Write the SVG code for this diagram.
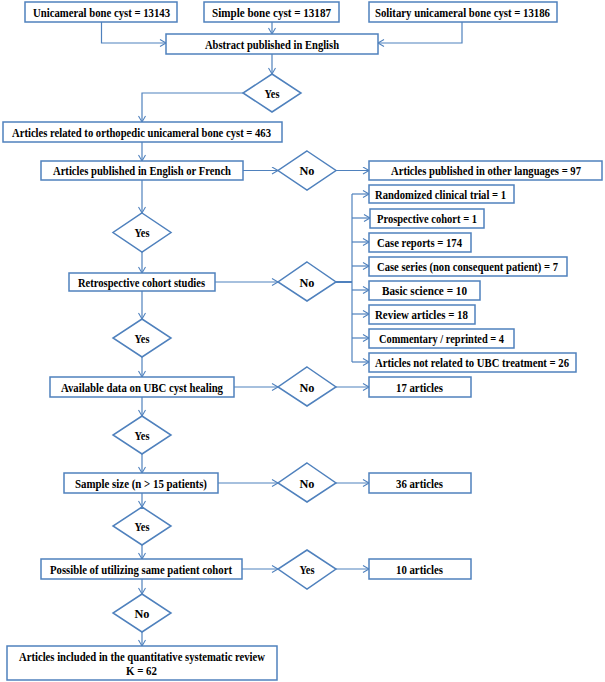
<svg xmlns="http://www.w3.org/2000/svg" width="605" height="682" viewBox="0 0 605 682">
<defs>
<marker id="arr" markerUnits="userSpaceOnUse" markerWidth="10" markerHeight="10" refX="7" refY="4" orient="auto">
<path d="M1,0.5 L7,4 L1,7.5" fill="none" stroke="#4f81bd" stroke-width="1.1"/>
</marker>
<style>
rect{fill:#fff;stroke:#4f81bd;stroke-width:1.5}
polygon{fill:#fff;stroke:#4f81bd;stroke-width:1.5}
text{font-family:"Liberation Serif","Times New Roman",serif;font-weight:bold;font-size:12.5px;fill:#000;text-anchor:middle}
.c path{fill:none;stroke:#4f81bd;stroke-width:1.2}
.c .a{marker-end:url(#arr)}
</style>
</defs>
<rect x="0" y="0" width="605" height="682" style="fill:#fff;stroke:none"/>
<g class="c" id="connectors">
<path class="a" d="M101.5,22 V43 H166"/>
<path class="a" d="M272,22 V34"/>
<path class="a" d="M462,22 V43 H378"/>
<path class="a" d="M272,54 V74"/>
<path class="a" d="M243,93 H142 V122"/>
<path class="a" d="M142,142 V161"/>
<path class="a" d="M243,170.5 H278"/>
<path class="a" d="M336,170.5 H369"/>
<path class="a" d="M142,180 V213"/>
<path class="a" d="M142,252 V273"/>
<path class="a" d="M215,282 H278"/>
<path d="M336,282 H352" style="stroke-width:2"/>
<path d="M352,194 V362"/>
<path class="a" d="M352,194 H369"/>
<path class="a" d="M352,218 H370"/>
<path class="a" d="M352,242 H369"/>
<path class="a" d="M352,266 H369"/>
<path class="a" d="M352,290 H369"/>
<path class="a" d="M352,314 H369"/>
<path class="a" d="M352,338 H369"/>
<path class="a" d="M352,362 H369"/>
<path class="a" d="M142,291 V319"/>
<path class="a" d="M142,357 V377"/>
<path class="a" d="M234,387 H278"/>
<path class="a" d="M336,387 H369"/>
<path class="a" d="M142,397 V416"/>
<path class="a" d="M142,454 V473"/>
<path class="a" d="M218,483 H278"/>
<path class="a" d="M336,483 H369"/>
<path class="a" d="M142,493 V507"/>
<path class="a" d="M142,545 V559"/>
<path class="a" d="M242,569 H278"/>
<path class="a" d="M336,569 H369"/>
<path class="a" d="M142,579 V594"/>
<path class="a" d="M142,632 V646"/>
</g>
<g id="n-ubc"><rect x="25" y="2" width="152" height="20"/><text x="101.5" y="16.5" textLength="137" lengthAdjust="spacingAndGlyphs">Unicameral bone cyst = 13143</text></g>
<g id="n-sbc"><rect x="204" y="2" width="135" height="20"/><text x="271.5" y="16.5" textLength="119" lengthAdjust="spacingAndGlyphs">Simple bone cyst = 13187</text></g>
<g id="n-subc"><rect x="369" y="2" width="188" height="20"/><text x="462.5" y="16.5" textLength="175" lengthAdjust="spacingAndGlyphs">Solitary unicameral bone cyst = 13186</text></g>
<g id="n-abstract"><rect x="166" y="34" width="212" height="20"/><text x="272" y="48.5" textLength="134" lengthAdjust="spacingAndGlyphs">Abstract published in English</text></g>
<g id="d-yes1"><polygon points="272,74 301,93 272,112 243,93"/><text x="272" y="97.5" textLength="15" lengthAdjust="spacingAndGlyphs">Yes</text></g>
<g id="n-related"><rect x="3" y="122" width="279" height="20"/><text x="141.5" y="136.5" textLength="259" lengthAdjust="spacingAndGlyphs">Articles related to orthopedic unicameral bone cyst = 463</text></g>
<g id="n-engfr"><rect x="41" y="161" width="202" height="19"/><text x="142" y="175" textLength="178" lengthAdjust="spacingAndGlyphs">Articles published in English or French</text></g>
<g id="d-no1"><polygon points="307,151 336,170.5 307,190 278,170.5"/><text x="307" y="175" textLength="15" lengthAdjust="spacingAndGlyphs">No</text></g>
<g id="n-otherlang"><rect x="369" y="161" width="233" height="19"/><text x="486" y="175" textLength="190" lengthAdjust="spacingAndGlyphs">Articles published in other languages = 97</text></g>
<g id="d-yes2"><polygon points="142,213 171,232.5 142,252 113,232.5"/><text x="142" y="237" textLength="15" lengthAdjust="spacingAndGlyphs">Yes</text></g>
<g id="n-retro"><rect x="69" y="273" width="146" height="18"/><text x="141.5" y="286.5" textLength="127" lengthAdjust="spacingAndGlyphs">Retrospective cohort studies</text></g>
<g id="d-no2"><polygon points="307,262 336,282 307,301 278,282"/><text x="307" y="286.5" textLength="15" lengthAdjust="spacingAndGlyphs">No</text></g>
<g id="n-rct"><rect x="369" y="185" width="145" height="18"/><text x="440.5" y="198.5" textLength="131" lengthAdjust="spacingAndGlyphs">Randomized clinical trial = 1</text></g>
<g id="n-prosp"><rect x="370" y="209" width="114" height="19"/><text x="427" y="222.5" textLength="100" lengthAdjust="spacingAndGlyphs">Prospective cohort = 1</text></g>
<g id="n-casereports"><rect x="369" y="233" width="102" height="19"/><text x="419.5" y="246.5" textLength="85" lengthAdjust="spacingAndGlyphs">Case reports = 174</text></g>
<g id="n-caseseries"><rect x="369" y="257" width="198" height="19"/><text x="467.5" y="270.5" textLength="181" lengthAdjust="spacingAndGlyphs">Case series (non consequent patient) = 7</text></g>
<g id="n-basic"><rect x="369" y="281" width="111" height="19"/><text x="424.5" y="294.5" textLength="85" lengthAdjust="spacingAndGlyphs">Basic science = 10</text></g>
<g id="n-review"><rect x="369" y="305" width="106" height="19"/><text x="421.5" y="318.5" textLength="93" lengthAdjust="spacingAndGlyphs">Review articles = 18</text></g>
<g id="n-comment"><rect x="369" y="329" width="145" height="19"/><text x="441.5" y="342.5" textLength="125" lengthAdjust="spacingAndGlyphs">Commentary / reprinted = 4</text></g>
<g id="n-notrelated"><rect x="369" y="353" width="207" height="19"/><text x="472" y="366.5" textLength="194" lengthAdjust="spacingAndGlyphs">Articles not related to UBC treatment = 26</text></g>
<g id="d-yes3"><polygon points="142,319 171,338 142,357 113,338"/><text x="142" y="342.5" textLength="15" lengthAdjust="spacingAndGlyphs">Yes</text></g>
<g id="n-available"><rect x="50" y="377" width="184" height="20"/><text x="142" y="391.5" textLength="162" lengthAdjust="spacingAndGlyphs">Available data on UBC cyst healing</text></g>
<g id="d-no3"><polygon points="307,367 336,387 307,406 278,387"/><text x="307" y="391.5" textLength="15" lengthAdjust="spacingAndGlyphs">No</text></g>
<g id="n-17"><rect x="369" y="377" width="102" height="20"/><text x="419.5" y="391.5" textLength="47" lengthAdjust="spacingAndGlyphs">17 articles</text></g>
<g id="d-yes4"><polygon points="142,416 171,435 142,454 113,435"/><text x="142" y="439.5" textLength="15" lengthAdjust="spacingAndGlyphs">Yes</text></g>
<g id="n-sample"><rect x="64" y="473" width="154" height="20"/><text x="141" y="487.5" textLength="132" lengthAdjust="spacingAndGlyphs">Sample size (n &gt; 15 patients)</text></g>
<g id="d-no4"><polygon points="307,463 336,483 307,502 278,483"/><text x="307" y="487.5" textLength="15" lengthAdjust="spacingAndGlyphs">No</text></g>
<g id="n-36"><rect x="369" y="473" width="102" height="20"/><text x="419.5" y="487.5" textLength="47" lengthAdjust="spacingAndGlyphs">36 articles</text></g>
<g id="d-yes5"><polygon points="142,507 171,526 142,545 113,526"/><text x="142" y="530.5" textLength="15" lengthAdjust="spacingAndGlyphs">Yes</text></g>
<g id="n-possible"><rect x="41" y="559" width="201" height="20"/><text x="141" y="573.5" textLength="182" lengthAdjust="spacingAndGlyphs">Possible of utilizing same patient cohort</text></g>
<g id="d-yes6"><polygon points="307,550 336,569 307,589 278,569"/><text x="307" y="573.5" textLength="15" lengthAdjust="spacingAndGlyphs">Yes</text></g>
<g id="n-10"><rect x="369" y="559" width="102" height="20"/><text x="419.5" y="573.5" textLength="47" lengthAdjust="spacingAndGlyphs">10 articles</text></g>
<g id="d-no5"><polygon points="142,594 171,613 142,632 113,613"/><text x="142" y="617.5" textLength="15" lengthAdjust="spacingAndGlyphs">No</text></g>
<g id="n-included"><rect x="7" y="646" width="270" height="34"/><text x="142" y="661" textLength="246" lengthAdjust="spacingAndGlyphs">Articles included in the quantitative systematic review</text><text x="141.5" y="675" textLength="31" lengthAdjust="spacingAndGlyphs">K = 62</text></g>
</svg>
